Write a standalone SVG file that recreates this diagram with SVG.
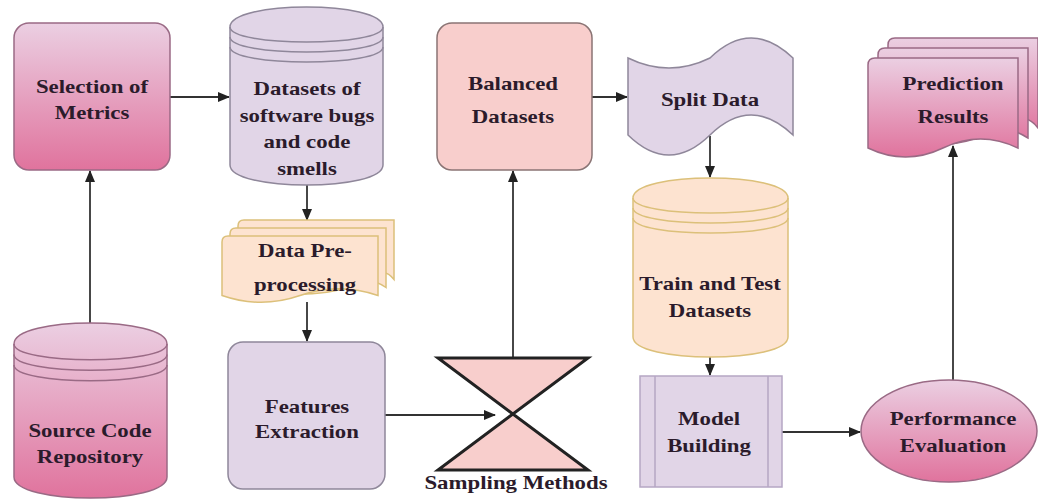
<svg xmlns="http://www.w3.org/2000/svg" width="1038" height="499" viewBox="0 0 1038 499">
<defs>
<linearGradient id="pink" x1="0" y1="0" x2="0" y2="1">
<stop offset="0" stop-color="#ebcfe2"/>
<stop offset="1" stop-color="#e0739d"/>
</linearGradient>
<marker id="arr" markerUnits="userSpaceOnUse" markerWidth="12" markerHeight="10" refX="11" refY="5" orient="auto">
<path d="M0,0 L12,5 L0,10 Z" fill="#222"/>
</marker>
<style>
.t{font-family:"Liberation Serif","Times New Roman",serif;font-weight:bold;font-size:19.5px;fill:#2b1b2b;text-anchor:middle}
.pk{fill:url(#pink);stroke:#9a6a85;stroke-width:1.5}
.lav{fill:#e1d5e7;stroke:#8f879a;stroke-width:1.5}
.red{fill:#f8cecc;stroke:#8a7474;stroke-width:1.5}
.pe{fill:#fde3d0;stroke:#dcc07a;stroke-width:1.5}
.ln{fill:none;stroke-width:1.5}
.c{fill:none;stroke:#333;stroke-width:1.8;marker-end:url(#arr)}
</style>
</defs>
<rect width="1038" height="499" fill="#ffffff"/>

<g id="connectors">
<path class="c" d="M90,323 L90,171"/>
<path class="c" d="M170,97 L229,97"/>
<path class="c" d="M307,185 L307,220"/>
<path class="c" d="M307,302 L307,341"/>
<path class="c" d="M385,415 L495,415"/>
<path class="c" d="M513,358 L513,171"/>
<path class="c" d="M592,97 L627,97"/>
<path class="c" d="M710,136 L710,177"/>
<path class="c" d="M710,357 L710,375"/>
<path class="c" d="M782,432 L860,432"/>
<path class="c" d="M953,380 L953,146"/>
</g>

<g id="selection-of-metrics">
<rect class="pk" x="14" y="23" width="156" height="147" rx="15"/>
<text class="t" transform="translate(92,0) scale(1.17,1)"><tspan x="0" y="93">Selection of</tspan><tspan x="0" y="119">Metrics</tspan></text>
</g>

<g id="source-code-repository">
<path class="pk" d="M14,344 C14,316 167,316 167,344 L167,477 C167,505 14,505 14,477 Z"/>
<path class="ln" stroke="#9a6a85" d="M14,344 C14,365 167,365 167,344 M14,354.5 C14,375.5 167,375.5 167,354.5 M14,365 C14,386 167,386 167,365"/>
<text class="t" transform="translate(90,0) scale(1.17,1)"><tspan x="0" y="437">Source Code</tspan><tspan x="0" y="463">Repository</tspan></text>
</g>

<g id="datasets-bugs-smells">
<path class="lav" d="M230,27 C230,0.3 383,0.3 383,27 L383,165 C383,191.7 230,191.7 230,165 Z"/>
<path class="ln" stroke="#8f879a" d="M230,27 C230,47 383,47 383,27 M230,37 C230,57 383,57 383,37 M230,47 C230,67 383,67 383,47"/>
<text class="t" transform="translate(307,0) scale(1.17,1)"><tspan x="0" y="95">Datasets of</tspan><tspan x="0" y="122">software bugs</tspan><tspan x="0" y="148">and code</tspan><tspan x="0" y="175">smells</tspan></text>
</g>

<g id="data-preprocessing">
<path class="pe" d="M238,226 Q238,220 244,220 L394,220 L394,279.5 Q383,266 375,279.5 Q355,293 238,279.5 Z"/>
<path class="pe" d="M230,234 Q230,228 236,228 L386,228 L386,287.5 Q367,274 347,287.5 Q308,301 230,287.5 Z"/>
<path class="pe" d="M222,242 Q222,236 228,236 L378,236 L378,295.5 Q339,282 300,295.5 Q261,309 222,295.5 Z"/>
<text class="t" transform="translate(305,0) scale(1.17,1)"><tspan x="0" y="257">Data Pre-</tspan><tspan x="0" y="291">processing</tspan></text>
</g>

<g id="features-extraction">
<rect class="lav" x="228" y="342" width="157" height="147" rx="15"/>
<text class="t" transform="translate(307,0) scale(1.17,1)"><tspan x="0" y="413">Features</tspan><tspan x="0" y="438">Extraction</tspan></text>
</g>

<g id="sampling-methods">
<path d="M438,358 L588,358 L438,470 L588,470 Z" fill="#f8cecc" stroke="#222" stroke-width="3" stroke-linejoin="miter"/>
<text class="t" transform="translate(516,0) scale(1.17,1)" x="0" y="489">Sampling Methods</text>
</g>

<g id="balanced-datasets">
<rect class="red" x="437" y="23" width="155" height="147" rx="15"/>
<text class="t" transform="translate(513,0) scale(1.17,1)"><tspan x="0" y="90">Balanced</tspan><tspan x="0" y="123">Datasets</tspan></text>
</g>

<g id="split-data">
<path class="lav" d="M628,58 Q669,78 710,58 Q751,18 793,58 L793,135 Q751,95 710,135 Q669,175 628,135 Z"/>
<text class="t" transform="translate(710,0) scale(1.17,1)" x="0" y="106">Split Data</text>
</g>

<g id="train-test-datasets">
<path class="pe" d="M633,198 C633,171.3 788,171.3 788,198 L788,337 C788,363.7 633,363.7 633,337 Z"/>
<path class="ln" stroke="#dcc07a" d="M633,198 C633,218 788,218 788,198 M633,208 C633,228 788,228 788,208 M633,218 C633,238 788,238 788,218"/>
<text class="t" transform="translate(710,0) scale(1.17,1)"><tspan x="0" y="290">Train and Test</tspan><tspan x="0" y="317">Datasets</tspan></text>
</g>

<g id="model-building">
<rect x="640" y="376" width="142" height="111" fill="#e1d5e7" stroke="#b5a6c4" stroke-width="1.5"/>
<path class="ln" stroke="#b5a6c4" d="M655,376 L655,487 M768,376 L768,487"/>
<text class="t" transform="translate(709,0) scale(1.17,1)"><tspan x="0" y="425">Model</tspan><tspan x="0" y="452">Building</tspan></text>
</g>

<g id="performance-evaluation">
<ellipse class="pk" cx="949" cy="431" rx="88" ry="51"/>
<text class="t" transform="translate(953,0) scale(1.17,1)"><tspan x="0" y="425">Performance</tspan><tspan x="0" y="452">Evaluation</tspan></text>
</g>

<g id="prediction-results">
<path class="pk" d="M888,45 Q888,38 895,38 L1038,38 L1038,128 Q1024,110 1013,128 Q960,143 888,128 Z"/>
<path class="pk" d="M878,55 Q878,48 885,48 L1028,48 L1028,138 Q1000,120 978,138 Q930,153 878,138 Z"/>
<path class="pk" d="M868,65 Q868,58 875,58 L1018,58 L1018,148 Q980.5,130 943,148 Q905.5,166 868,148 Z"/>
<text class="t" transform="translate(953,0) scale(1.17,1)"><tspan x="0" y="90">Prediction</tspan><tspan x="0" y="123">Results</tspan></text>
</g>
</svg>
